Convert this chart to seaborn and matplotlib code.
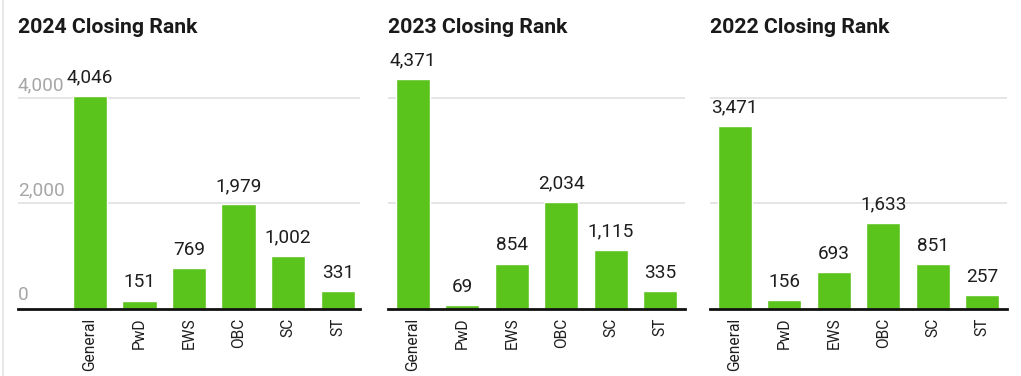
import matplotlib
matplotlib.use("Agg")
import matplotlib.pyplot as plt
from matplotlib.lines import Line2D
import seaborn as sns
import pandas as pd

categories = ["General", "PwD", "EWS", "OBC", "SC", "ST"]
rank_2024 = [4046, 151, 769, 1979, 1002, 331]
rank_2023 = [4371, 69, 854, 2034, 1115, 335]
rank_2022 = [3471, 156, 693, 1633, 851, 257]
titles = ["2024 Closing Rank", "2023 Closing Rank", "2022 Closing Rank"]
y_ticks = [0, 2000, 4000]

sns.set_theme(style="white")
plt.rcParams["font.family"] = ["Roboto", "DejaVu Sans"]

W, H = 1021, 376
fig = plt.figure(figsize=(W / 100, H / 100), dpi=100)

GREEN = "#5bc41c"
y0_px = 308.5
px_per_unit = 105.2 / 2000
ymax = 4800
top_px = y0_px - ymax * px_per_unit

panels = [
    (rank_2024, titles[0], 18, 360, (-1.45, 5.45), True),
    (rank_2023, titles[1], 388, 685, (-0.5, 5.5), False),
    (rank_2022, titles[2], 710, 1007, (-0.5, 5.5), False),
]

for values, title, x0, x1, xlim, show_y in panels:
    ax = fig.add_axes([x0 / W, 1 - y0_px / H, (x1 - x0) / W, (y0_px - top_px) / H])
    df = pd.DataFrame({"cat": categories, "val": values})
    sns.barplot(data=df, x="cat", y="val", ax=ax, color=GREEN, saturation=1,
                width=0.69, zorder=3)
    ax.set_xlim(*xlim)
    ax.set_ylim(0, ymax)
    ax.set_xlabel("")
    ax.set_ylabel("")
    ax.set_yticks([])
    for t in y_ticks[1:]:
        ax.axhline(t, color="#e0e0e0", lw=1.2, zorder=1)
    for s in ["top", "right", "left"]:
        ax.spines[s].set_visible(False)
    ax.spines["bottom"].set_color("#111111")
    ax.spines["bottom"].set_linewidth(2.0)
    ax.spines["bottom"].set_zorder(4)
    ax.tick_params(axis="x", length=0, pad=6.5, labelsize=11.2, labelcolor="#1e1e1e")
    for lab in ax.get_xticklabels():
        lab.set_rotation(90)
        lab.set_va("top")
        lab.set_ha("center")
    for i, v in enumerate(values):
        ax.annotate(f"{v:,}", (i, v), xytext=(0, 9.5), textcoords="offset points",
                    ha="center", va="baseline", fontsize=13.7, color="#1e1e1e",
                    annotation_clip=False, zorder=5)
    if show_y:
        for t in y_ticks:
            ax.annotate(f"{t:,}", (xlim[0], t), xytext=(0, 5.8), textcoords="offset points",
                        ha="left", va="baseline", fontsize=13.7, color="#a6a6a6",
                        annotation_clip=False, zorder=2)
    fig.text(x0 / W, 1 - 33 / H, title, fontsize=15.3, fontweight="bold",
             color="#1a1a1a", ha="left", va="baseline")

fig.add_artist(Line2D([2.5 / W, 2.5 / W], [0, 1], color="#e4e4e4", lw=1.2,
                      transform=fig.transFigure))

fig.savefig("out.png", dpi=100, facecolor="white")
